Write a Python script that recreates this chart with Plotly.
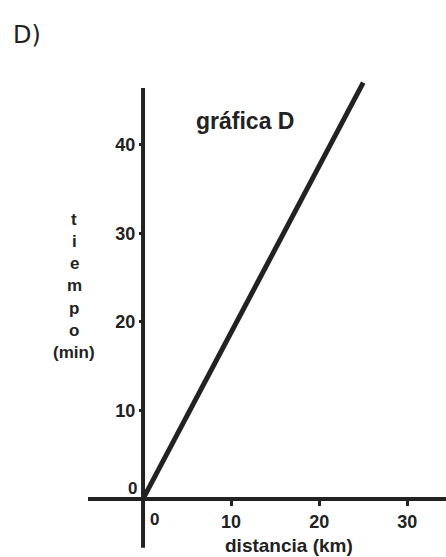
import plotly.graph_objects as go

# data
dist_km = [0, 25]
time_min = [0, 47]
x_ticks = [10, 20, 30]
y_ticks = [10, 20, 30, 40]
ylabel_lines = ["t", "i", "e", "m", "p", "o", "(min)"]

INK = "#222222"
FONT = "Liberation Sans"

W, H = 446, 557
L, R, T, B = 88, 0, 80, 9
PW, PH = W - L - R, H - T - B


def px(x):
    return (x - L) / PW


def py(y):
    return (H - B - y) / PH


fig = go.Figure()
fig.add_trace(go.Scatter(x=dist_km, y=time_min, mode="lines",
                         line=dict(color=INK, width=5), hoverinfo="skip"))

fig.update_layout(
    width=W, height=H,
    margin=dict(l=L, r=R, t=T, b=B),
    paper_bgcolor="white", plot_bgcolor="white",
    showlegend=False,
    xaxis=dict(range=[-6.25, 34.4], anchor="free", position=py(499),
               showline=True, linecolor=INK, linewidth=4,
               showgrid=False, zeroline=False,
               tickvals=x_ticks, ticktext=[f"<b>{v}</b>" for v in x_ticks],
               ticks="outside", ticklen=5, tickwidth=3, tickcolor=INK,
               tickfont=dict(family=FONT, size=18, color=INK)),
    yaxis=dict(range=[-5.54, 47.3], anchor="free", position=px(144),
               showline=False, showgrid=False, zeroline=False,
               tickvals=y_ticks, ticktext=[f"<b>{v}</b>" for v in y_ticks],
               ticks="outside", ticklen=5, tickwidth=3, tickcolor=INK,
               tickfont=dict(family=FONT, size=18, color=INK)),
)

# vertical axis line
fig.add_shape(type="line", xref="x", yref="y", x0=0, x1=0, y0=-5.5, y1=46.4,
              line=dict(color=INK, width=4), layer="above")

# zero labels
fig.add_annotation(x=px(132), y=py(488), xref="paper", yref="paper", text="<b>0</b>",
                   showarrow=False, xanchor="center", yanchor="middle",
                   font=dict(family=FONT, size=17, color=INK))
fig.add_annotation(x=px(154), y=py(519), xref="paper", yref="paper", text="<b>0</b>",
                   showarrow=False, xanchor="center", yanchor="middle",
                   font=dict(family=FONT, size=17, color=INK))

# x title
fig.add_annotation(x=px(289), y=py(545), xref="paper", yref="paper",
                   text="<b>distancia (km)</b>", showarrow=False,
                   xanchor="center", yanchor="middle",
                   font=dict(family=FONT, size=19, color=INK))

# y title, letter per line
for i, s in enumerate(ylabel_lines):
    fig.add_annotation(x=px(74), y=py(219 + i * 22.3),
                       xref="paper", yref="paper", text=f"<b>{s}</b>",
                       showarrow=False, xanchor="center", yanchor="middle",
                       font=dict(family=FONT, size=17, color=INK))

# inner title
fig.add_annotation(x=px(245), y=py(121), xref="paper", yref="paper",
                   text="<b>gráfica D</b>", showarrow=False,
                   xanchor="center", yanchor="middle",
                   font=dict(family=FONT, size=23, color=INK))

# panel label
fig.add_annotation(x=px(11), y=py(35), xref="paper", yref="paper", text="D)",
                   showarrow=False, xanchor="left", yanchor="middle",
                   font=dict(family="DejaVu Sans", size=24, color=INK))

fig.write_html("out.html", config={"displayModeBar": False},
               post_script="document.body.style.margin='0';")
